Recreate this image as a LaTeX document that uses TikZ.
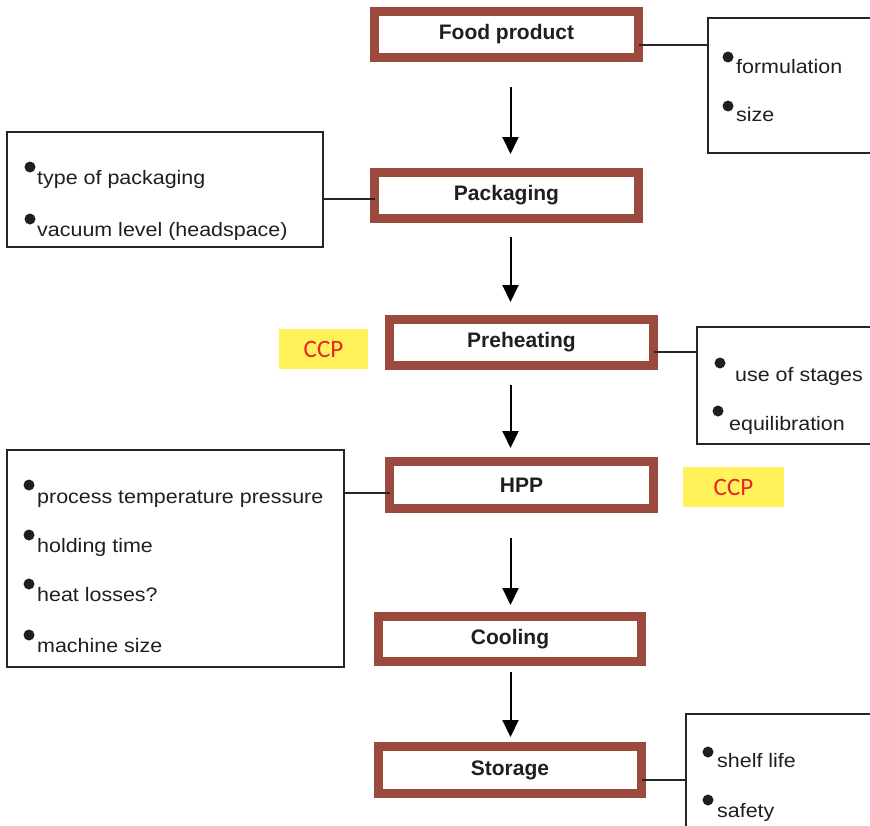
\documentclass[tikz,border=0pt]{standalone}
\usepackage{fontspec}
\setmainfont{Liberation Sans}
\newfontfamily\itemfont{Liberation Sans}[FakeStretch=1.1]
\newfontfamily\ccpfont{Carlito}
\usetikzlibrary{arrows.meta,calc}
\definecolor{boxbrown}{RGB}{156,74,62}
\definecolor{ccpyellow}{RGB}{255,242,90}
\definecolor{ccpred}{RGB}{232,38,42}
\tikzset{
  mainbox/.style={draw=boxbrown, line width=9pt, fill=white, inner sep=0pt, outer sep=0pt,
    minimum width=264pt, minimum height=46pt,
    font=\fontsize{21}{21}\selectfont\bfseries, text=black!88},
  sidebox/.style={draw=black!85, line width=1.5pt, anchor=north west, inner sep=0pt, outer sep=0pt},
  item/.style={anchor=base west, inner sep=0pt, font=\itemfont\fontsize{19.5}{19.5}\selectfont, text=black!88},
  ccpbox/.style={fill=ccpyellow, inner sep=0pt, minimum height=40pt,
    font=\ccpfont\fontsize{25}{25}\selectfont, text=ccpred},
  flow/.style={line width=2pt, -{Triangle[width=16pt,length=17pt]}},
  conn/.style={line width=1.3pt, draw=black!85},
  dot/.style={fill=black!88}
}
\begin{document}
\begin{tikzpicture}[x=1pt,y=-1pt]
\useasboundingbox (0,0) rectangle (870,825);
\clip (0,0) rectangle (870,825);
\fill[white] (0,0) rectangle (870,825);

% side boxes
\node[sidebox, minimum width=180pt, minimum height=135pt] (r1) at (708,18) {};
\node[sidebox, minimum width=316pt, minimum height=115pt] (l1) at (7,132) {};
\node[sidebox, minimum width=190pt, minimum height=117pt] (r2) at (697,327) {};
\node[sidebox, minimum width=337pt, minimum height=217pt] (l2) at (7,450) {};
\node[sidebox, minimum width=200pt, minimum height=130pt] (r3) at (686,714) {};

% main boxes
\node[mainbox] (food) at (506.5,34.5) {Food product};
\node[mainbox] (pack) at (506.5,195.5) {Packaging};
\node[mainbox] (pre) at (521.5,342.5) {Preheating};
\node[mainbox, minimum height=47pt] (hpp) at (521.5,485) {HPP};
\node[mainbox, minimum width=263pt, minimum height=45pt] (cool) at (510,639) {Cooling};
\node[mainbox, minimum width=263pt, minimum height=47pt] (stor) at (510,770) {Storage};

% connectors to the side boxes
\draw[conn] ([yshift=-10.5pt]food.east) coordinate (c1) -- (c1 -| r1.west);
\draw[conn] ([yshift=-3.5pt]pack.west) coordinate (c2) -- (c2 -| l1.east);
\draw[conn] ([yshift=-9.5pt]pre.east) coordinate (c3) -- (c3 -| r2.west);
\draw[conn] ([yshift=-8pt]hpp.west) coordinate (c4) -- (c4 -| l2.east);
\draw[conn] ([yshift=-10pt]stor.east) coordinate (c5) -- (c5 -| r3.west);

% CCP labels
\node[ccpbox, minimum width=89pt] (ccp1) at (323.5,349) {CCP};
\node[ccpbox, minimum width=101pt] (ccp2) at (733.5,487) {CCP};

% flow arrows
\coordinate (ax) at (510.5,0);
\draw[flow, shorten <=29.5pt, shorten >=18.5pt] (food.south -| ax) -- (pack.north -| ax);
\draw[flow, shorten <=18.5pt, shorten >=17.5pt] (pack.south -| ax) -- (pre.north -| ax);
\draw[flow, shorten <=19.5pt, shorten >=13.5pt] (pre.south -| ax) -- (hpp.north -| ax);
\draw[flow, shorten <=29.5pt, shorten >=11.5pt] (hpp.south -| ax) -- (cool.north -| ax);
\draw[flow, shorten <=10.5pt, shorten >=9.5pt] (cool.south -| ax) -- (stor.north -| ax);

% items
\node[item] (r1a) at (736,73) {formulation};
\node[item] (r1b) at (736,121) {size};
\fill[dot] (728,57) circle (5.5pt);
\fill[dot] (728,106) circle (5.5pt);

\node[item] (l1a) at (37,184) {type of packaging};
\node[item] (l1b) at (37,236) {vacuum level (headspace)};
\fill[dot] (30,167) circle (5.5pt);
\fill[dot] (30,219) circle (5.5pt);

\node[item] (r2a) at (735,381) {use of stages};
\node[item] (r2b) at (729,430) {equilibration};
\fill[dot] (720,363) circle (5.5pt);
\fill[dot] (718,411) circle (5.5pt);

\node[item] (l2a) at (37,503) {process temperature pressure};
\node[item] (l2b) at (37,552) {holding time};
\node[item] (l2c) at (37,601) {heat losses?};
\node[item] (l2d) at (37,652) {machine size};
\fill[dot] (29,485) circle (5.5pt);
\fill[dot] (29,535) circle (5.5pt);
\fill[dot] (29,584) circle (5.5pt);
\fill[dot] (29,635) circle (5.5pt);

\node[item] (r3a) at (717,767) {shelf life};
\node[item] (r3b) at (717,817) {safety};
\fill[dot] (708,752) circle (5.5pt);
\fill[dot] (708,800) circle (5.5pt);
\end{tikzpicture}
\end{document}
